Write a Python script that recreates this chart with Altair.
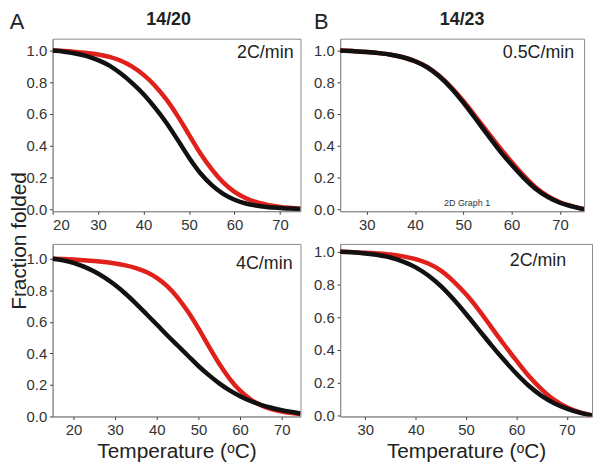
import altair as alt
import pandas as pd

RED = "#e0201b"
BLACK = "#111111"
FONT = "Liberation Sans"

# Panel A top: 14/20, 2C/min
T_a1 = [20, 22.5, 25, 27.5, 30, 32.5, 35, 37.5, 40, 42.5, 45, 47.5, 50, 52.5, 55, 57.5, 60, 62.5, 65, 67.5, 70, 72.5, 74.5]
black_a1 = [1.0, 0.993, 0.982, 0.965, 0.94, 0.905, 0.855, 0.795, 0.725, 0.64, 0.545, 0.437, 0.325, 0.227, 0.152, 0.097, 0.06, 0.036, 0.022, 0.013, 0.008, 0.004, 0.002]
red_a1 = [1.0, 0.997, 0.992, 0.985, 0.975, 0.96, 0.936, 0.899, 0.847, 0.779, 0.692, 0.587, 0.469, 0.351, 0.251, 0.169, 0.109, 0.069, 0.043, 0.026, 0.015, 0.008, 0.003]

# Panel A bottom: 14/20, 4C/min
T_a2 = [15, 17.5, 20, 22.5, 25, 27.5, 30, 32.5, 35, 37.5, 40, 42.5, 45, 47.5, 50, 52.5, 55, 57.5, 60, 62.5, 65, 67.5, 70, 72.5, 74.5]
black_a2 = [1.0, 0.99, 0.974, 0.95, 0.919, 0.88, 0.833, 0.778, 0.716, 0.65, 0.583, 0.515, 0.45, 0.385, 0.32, 0.262, 0.21, 0.165, 0.128, 0.098, 0.074, 0.055, 0.04, 0.028, 0.019]
red_a2 = [1.0, 0.998, 0.995, 0.991, 0.986, 0.979, 0.97, 0.958, 0.941, 0.916, 0.879, 0.826, 0.754, 0.664, 0.559, 0.444, 0.334, 0.239, 0.164, 0.109, 0.071, 0.047, 0.031, 0.021, 0.015]

# Panel B top: 14/23, 0.5C/min
T_b1 = [24.5, 27.5, 30, 32.5, 35, 37.5, 40, 42.5, 45, 47.5, 50, 52.5, 55, 57.5, 60, 62.5, 65, 67.5, 70, 72.5, 75]
black_b1 = [1.0, 0.996, 0.991, 0.984, 0.974, 0.958, 0.933, 0.895, 0.838, 0.763, 0.672, 0.572, 0.47, 0.37, 0.28, 0.198, 0.128, 0.077, 0.041, 0.018, 0.0]
red_b1 = [1.0, 0.996, 0.991, 0.984, 0.974, 0.958, 0.934, 0.897, 0.841, 0.768, 0.682, 0.586, 0.488, 0.39, 0.298, 0.212, 0.137, 0.082, 0.044, 0.02, 0.0]

# Panel B bottom: 14/23, 2C/min
T_b2 = [25, 27.5, 30, 32.5, 35, 37.5, 40, 42.5, 45, 47.5, 50, 52.5, 55, 57.5, 60, 62.5, 65, 67.5, 70, 72.5, 75]
black_b2 = [1.0, 0.997, 0.99, 0.98, 0.965, 0.94, 0.905, 0.855, 0.79, 0.71, 0.62, 0.525, 0.43, 0.34, 0.255, 0.18, 0.12, 0.075, 0.042, 0.018, 0.0]
red_b2 = [1.0, 0.998, 0.995, 0.99, 0.983, 0.972, 0.955, 0.928, 0.885, 0.82, 0.74, 0.645, 0.54, 0.435, 0.335, 0.24, 0.16, 0.095, 0.05, 0.02, 0.0]

Y_TICKS = [0.0, 0.2, 0.4, 0.6, 0.8, 1.0]


def panel(T, black, red, xdom, ydom, w, h, xticks, xtitle, texts):
    df = pd.DataFrame({"T": T, "black": black, "red": red})
    if xtitle:
        xaxis = alt.Axis(values=xticks, title=xtitle, format="d")
    else:
        xaxis = alt.Axis(values=xticks, title=None, format="d")
    x = alt.X("T:Q", scale=alt.Scale(domain=xdom, nice=False, zero=False), axis=xaxis)
    yscale = alt.Scale(domain=ydom, nice=False, zero=False)
    yaxis = alt.Axis(values=Y_TICKS, format=".1f", title=None)
    base = alt.Chart(df)
    red_line = base.mark_line(color=RED, strokeWidth=4.5, interpolate="monotone", clip=True).encode(
        x=x, y=alt.Y("red:Q", scale=yscale, axis=yaxis))
    black_line = base.mark_line(color=BLACK, strokeWidth=4.5, interpolate="monotone", clip=True).encode(
        x=x, y=alt.Y("black:Q", scale=yscale, axis=yaxis))
    layers = [red_line, black_line]
    for (txt, px, py, size, weight, align, angle, color) in texts:
        tdf = pd.DataFrame({"t": [txt]})
        layers.append(
            alt.Chart(tdf).mark_text(font=FONT, fontSize=size, fontWeight=weight, align=align,
                                     baseline="middle", angle=angle, color=color).encode(
                x=alt.value(px), y=alt.value(py), text="t:N"))
    return alt.layer(*layers).properties(width=w, height=h)


p1 = panel(T_a1, black_a1, red_a1, [20, 74.5], [-0.0125, 1.075], 250, 174, [20, 30, 40, 50, 60, 70], None,
           [("A", -36, -17, 22, "normal", "center", 0, "#222"),
            ("14/20", 117, -19, 18, "bold", "center", 0, "#222"),
            ("2C/min", 243, 14, 18, "normal", "right", 0, "#222")])
p2 = panel(T_b1, black_b1, red_b1, [24.5, 75], [-0.0125, 1.075], 246, 174, [30, 40, 50, 60, 70], None,
           [("B", -19, -17, 22, "normal", "center", 0, "#222"),
            ("14/23", 123, -19, 18, "bold", "center", 0, "#222"),
            ("0.5C/min", 236, 14, 18, "normal", "right", 0, "#222"),
            ("2D Graph 1", 128, 166, 9, "normal", "center", 0, "#333")])
p3 = panel(T_a2, black_a2, red_a2, [15, 74.5], [0.0, 1.094], 250, 174, [20, 30, 40, 50, 60, 70], "Temperature (ᵒC)",
           [("4C/min", 242, 20, 18, "normal", "right", 0, "#222"),
            ("Fraction folded", -33, -3, 21, "normal", "center", 270, "#222")])
p4 = panel(T_b2, black_b2, red_b2, [25, 75], [-0.006, 1.048], 254, 174, [30, 40, 50, 60, 70], "Temperature (ᵒC)",
           [("2C/min", 228, 17, 18, "normal", "right", 0, "#222")])

chart = alt.concat(p1, p2, p3, p4, columns=2, spacing={"row": 33, "column": 40}, bounds="flush").properties(
    padding={"left": 0, "top": 0, "right": 0, "bottom": 0}
).configure_view(stroke="#8c8c8c", strokeWidth=1).configure_axis(
    grid=False,
    labelFont=FONT, labelFontSize=15, labelColor="#333",
    tickColor="#333", tickSize=3, domainColor="#8c8c8c",
    labelPadding=3,
    titleFont=FONT, titleFontSize=21, titleFontWeight="normal", titleColor="#222", titlePadding=3,
)

chart.save("out.html", embed_options={"renderer": "svg", "actions": False})
